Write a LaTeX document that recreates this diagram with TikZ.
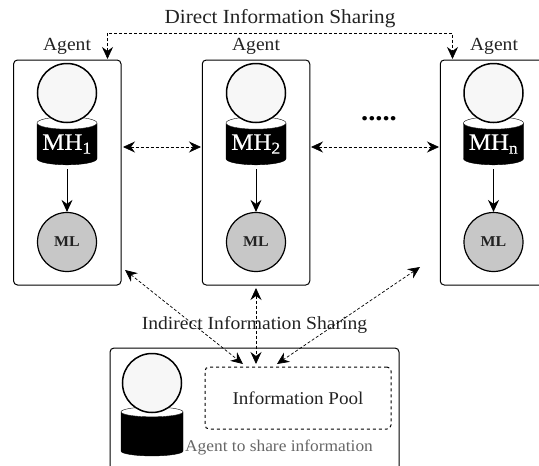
\documentclass[tikz,border=0pt]{standalone}
\usepackage{fontspec}
\setmainfont[FakeStretch=1.06]{Liberation Serif}
\newfontfamily\mhfont[FakeStretch=1.06,FakeBold=0.4]{Liberation Serif}
\usetikzlibrary{arrows.meta,shapes.geometric}
\definecolor{txt}{HTML}{222222}
\newcommand{\cylsize}{\phantom{MH\textsubscript{1}}}
\newcommand{\mhlabel}[1]{\raisebox{1.5pt}{MH\textsubscript{#1}}}
\tikzset{
  x=1pt,y=-1pt,
  agentbox/.style={draw,line width=1pt,rounded corners=4pt,minimum width=107.5pt,minimum height=225pt,inner sep=0pt},
  headc/.style={circle,draw,line width=1.5pt,fill=white!97!black,minimum size=59pt,inner sep=0pt},
  mlc/.style={circle,draw,line width=1.2pt,fill=black!22,minimum size=59pt,inner sep=0pt,font=\fontsize{15}{17}\selectfont\bfseries,text=txt},
  cyl/.style={cylinder,shape border rotate=90,aspect=0.25,draw=black,cylinder uses custom fill,cylinder body fill=black,cylinder end fill=white,minimum width=60pt,minimum height=48pt,inner sep=0pt,text=white,font=\mhfont\fontsize{23.5}{25}\selectfont},
  lbl/.style={font=\fontsize{18.5}{21}\selectfont,text=txt,inner sep=0pt},
  tip/.style={-{Stealth[length=12pt,width=11pt,inset=4pt]},line width=0.9pt},
  both/.style={{Stealth[length=12pt,width=11pt,inset=4pt]}-{Stealth[length=12pt,width=11pt,inset=4pt]},line width=0.7pt,densely dashed},
  pool/.style={draw,dashed,line width=1pt,rounded corners=4pt,minimum width=186pt,minimum height=62pt,inner sep=0pt,font=\fontsize{18}{21}\selectfont,text=txt}
}
\begin{document}
\begin{tikzpicture}
\useasboundingbox (0,0) rectangle (539,466);
\clip (0,0) rectangle (539,466);
% agent boxes
\node[agentbox] (box1) at (67.3,172.5) {};
\node[agentbox] (box2) at (256,172.5) {};
\node[agentbox] (box3) at (494,172.5) {};
\node[draw,line width=1pt,rounded corners=4pt,minimum width=289pt,minimum height=130pt,inner sep=0pt] (box4) at (254.5,413) {};
% agents
\node[cyl] (cyl1) at (67,144) {\mhlabel{1}};
\node[headc] (head1) at (67,93) {};
\node[mlc] (ml1) at (67,242) {ML};
\node[cyl] (cyl2) at (256,144) {\mhlabel{2}};
\node[headc] (head2) at (256,93) {};
\node[mlc] (ml2) at (256,242) {ML};
\node[cyl] (cyl3) at (493.5,144) {\mhlabel{n}};
\node[headc] (head3) at (493.5,93) {};
\node[mlc] (ml3) at (493.5,242) {ML};
\draw[tip] (cyl1.south) ++(0,4) coordinate (a1) -- (ml1.north);
\draw[tip] (cyl2.south) ++(0,4) coordinate (a2) -- (ml2.north);
\draw[tip] (cyl3.south) ++(0,4) coordinate (a3) -- (ml3.north);
% bottom agent
\node[cyl,aspect=0.2,minimum width=62pt,minimum height=49pt] (cyl4) at (152,434) {\cylsize};
\node[headc] (head4) at (152,383) {};
\node[pool] (pool) at (298,398) {Information Pool};
% labels
\node[lbl] (l1) at (67,46) {Agent};
\node[lbl] (l2) at (256,46) {Agent};
\node[lbl] (l3) at (494,46) {Agent};
\node[lbl,font=\fontsize{20}{22}\selectfont] (direct) at (280,19) {Direct Information Sharing};
\node[lbl] (indirect) at (254.5,325) {Indirect Information Sharing};
\node[font=\fontsize{16.4}{18}\selectfont,text=black!60,inner sep=0pt] (share) at (279,447) {Agent to share information};
\node[font=\fontsize{27}{29}\selectfont\bfseries,inner sep=0pt] (dots) at (379,118.5) {.....};
% connectors
\coordinate (d1) at (107.5,59);
\coordinate (d2) at (452.5,59);
\draw[both] (d1) -- (107.5,33) -- (452.5,33) -- (d2);
\coordinate (h1) at (123,147);
\coordinate (h2) at (201,147);
\coordinate (h3) at (311,147);
\coordinate (h4) at (439,147);
\draw[both] (h1) -- (h2);
\draw[both] (h3) -- (h4);
\coordinate (u1) at (125,270);
\coordinate (u2) at (256,288);
\coordinate (u3) at (420,267);
\coordinate (v1) at (243,364);
\coordinate (v2) at (256,364);
\coordinate (v3) at (277,364);
\draw[both] (u1) -- (v1);
\draw[both] (u2) -- (v2);
\draw[both] (u3) -- (v3);
\end{tikzpicture}
\end{document}
